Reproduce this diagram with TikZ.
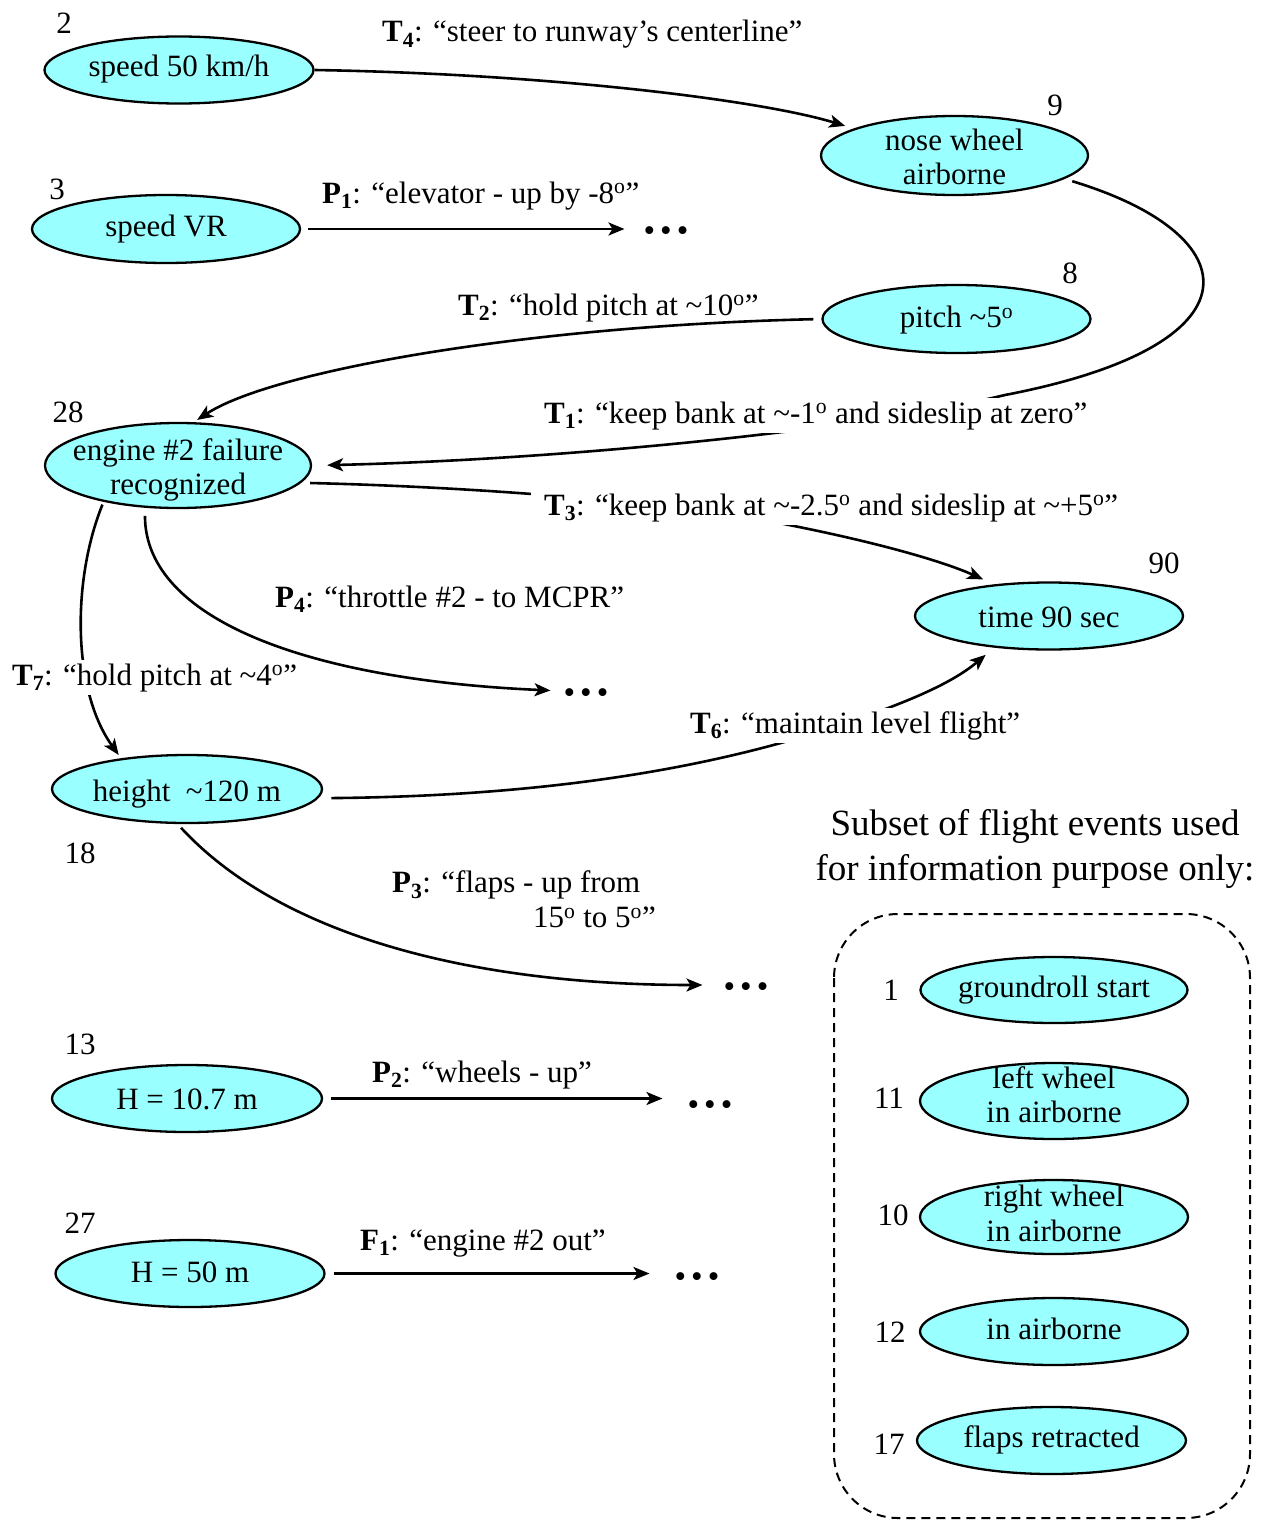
\documentclass[tikz,border=0pt]{standalone}
\usepackage{fontspec}
\setmainfont{Liberation Serif}
\usetikzlibrary{shapes.geometric,arrows.meta}
\definecolor{evfill}{RGB}{153,255,255}
\begin{document}
\begin{tikzpicture}[x=1pt,y=-1pt,
  every node/.style={font=\fontsize{31}{34.5}\selectfont},
  ev/.style={ellipse, draw, fill=evfill, line width=2.3pt, inner sep=0pt, minimum width=268pt, minimum height=67pt},
  num/.style={inner sep=0pt},
  lab/.style={inner sep=0pt, anchor=base west},
  wlab/.style={fill=white, inner sep=3pt, anchor=base west},
  edge/.style={line width=2.6pt, -{Stealth[length=16pt,width=13pt,inset=4pt]}},
  dotsx/.style={inner sep=0pt, font=\fontsize{33}{33}\selectfont},
  boxline/.style={line width=2pt, dash pattern=on 9pt off 6pt, rounded corners=64pt}
]
\useasboundingbox (0,0) rectangle (1261,1520);

% events
\node[ev, minimum width=269pt, label={[yshift=1pt]center:speed 50 km/h}] (s50) at (179,70) {};
\node[ev, minimum height=68pt, label={center:speed VR}] (vr) at (166,229) {};
\node[ev, minimum width=267pt, minimum height=79pt, label={[align=center,yshift=-1.5pt]center:nose wheel\\airborne}] (nw) at (954.5,155.5) {};
\node[ev, minimum height=68pt, label={[yshift=-1.5pt]center:pitch \textasciitilde5\textsuperscript{o}}] (pitch) at (956.5,319) {};
\node[ev, minimum width=266pt, minimum height=85pt, label={[align=center,yshift=-4.5pt]center:engine \#2 failure\\recognized}] (eng) at (178,465.5) {};
\node[ev, label={[yshift=-1.5pt]center:time 90 sec}] (t90) at (1049,616) {};
\node[ev, minimum width=270pt, minimum height=68pt, label={[yshift=-5.5pt]center:height\ \ \textasciitilde120 m}] (ht) at (187,789) {};
\node[ev, minimum width=270pt, label={[yshift=-1pt]center:H = 10.7 m}] (h107) at (187,1098.5) {};
\node[ev, minimum width=269pt, label={[yshift=1.5pt]center:H = 50 m}] (h50) at (190,1273.5) {};

\node[ev, minimum width=267pt, minimum height=66pt, label={[yshift=-0.5pt]center:groundroll start}] (gs) at (1054,990) {};
\node[ev, minimum width=268pt, minimum height=76pt, label={[align=center,yshift=6.5pt]center:left wheel\\in airborne}] (lw) at (1054,1101) {};
\node[ev, minimum width=268pt, minimum height=74pt, label={[align=center,yshift=3.5pt]center:right wheel\\in airborne}] (rw) at (1054,1217) {};
\node[ev, label={[yshift=3pt]center:in airborne}] (ia) at (1054,1331.5) {};
\node[ev, minimum width=269pt, label={[yshift=1pt]center:flaps retracted}] (fr) at (1051.5,1440.5) {};

% numbers
\node[num] (n2) at (64,23) {2};
\node[num] (n3) at (57,189) {3};
\node[num] (n9) at (1055,105) {9};
\node[num] (n8) at (1070,273) {8};
\node[num] (n28) at (68,412) {28};
\node[num] (n90) at (1164,563) {90};
\node[num] (n18) at (80,853) {18};
\node[num] (n13) at (80,1044) {13};
\node[num] (n27) at (80,1223) {27};
\node[num] (n1) at (891,990) {1};
\node[num] (n11) at (889,1098) {11};
\node[num] (n10) at (893,1215) {10};
\node[num] (n12) at (890,1332) {12};
\node[num] (n17) at (889,1444) {17};

% continuation dots
\node[dotsx] (d1) at (666,234) {•\kern5pt•\kern5pt•};
\node[dotsx] (d4) at (586,696) {•\kern5pt•\kern5pt•};
\node[dotsx] (d3) at (746,990) {•\kern5pt•\kern5pt•};
\node[dotsx] (d2) at (710,1108) {•\kern5pt•\kern5pt•};
\node[dotsx] (d5) at (697,1280) {•\kern5pt•\kern5pt•};

% connectors
\draw[edge, shorten >=9pt] (s50.east) .. controls (550,74) and (760,100) .. (nw.165);
\draw[edge, shorten <=7pt, shorten >=19pt] (vr.east) -- (vr.east -| d1.west);
\draw[edge, shorten <=8pt, shorten >=4pt] (pitch.west) .. controls (520,326) and (270,372) .. (eng.70);
\draw[edge, shorten <=8pt, shorten >=15pt] (nw.-12) .. controls (1250,235) and (1265,345) .. (1005,395) .. controls (850,432) and (550,460) .. (eng.east);
\draw[edge, shorten <=9pt, shorten >=12pt] (eng.-8) .. controls (480,487) and (680,503) .. (789,525) .. controls (870,541) and (940,560) .. (t90.150);
\draw[edge, shorten <=8pt, shorten >=13pt] (eng.-128) .. controls (145,620) and (310,680) .. ([yshift=5pt]d4.west);
\draw[edge, shorten <=3pt, shorten >=4pt] (eng.-154) .. controls (72,580) and (72,690) .. (ht.155);
\draw[edge, shorten <=13pt, shorten >=11pt] (ht.-4) .. controls (560,796) and (720,765) .. (840,725) .. controls (900,705) and (950,685) .. (t90.-150);
\draw[edge, shorten <=5pt, shorten >=21pt] (ht.-105) .. controls (280,935) and (470,985) .. ([yshift=5pt]d3.west);
\draw[edge, shorten <=8pt, shorten >=25pt] (h107.east) -- (h107.east -| d2.west);
\draw[edge, shorten <=8pt, shorten >=25pt] (h50.east) -- (h50.east -| d5.west);

% connector labels
\node[lab] (lT4) at (382,42) {\textbf{T\textsubscript{4}}: “steer to runway’s centerline”};
\node[lab] (lP1) at (322,203) {\textbf{P\textsubscript{1}}: “elevator - up by -8\textsuperscript{o}”};
\node[lab] (lT2) at (458,315) {\textbf{T\textsubscript{2}}: “hold pitch at \textasciitilde10\textsuperscript{o}”};
\node[wlab] (lT1) at (541,423) {\textbf{T\textsubscript{1}}: “keep bank at \textasciitilde-1\textsuperscript{o} and sideslip at zero”};
\node[wlab, inner xsep=13pt] (lT3) at (531,515) {\textbf{T\textsubscript{3}}: “keep bank at \textasciitilde-2.5\textsuperscript{o} and sideslip at \textasciitilde+5\textsuperscript{o}”};
\node[lab] (lP4) at (275,607) {\textbf{P\textsubscript{4}}: “throttle \#2 - to MCPR”};
\node[wlab] (lT7) at (9,685) {\textbf{T\textsubscript{7}}: “hold pitch at \textasciitilde4\textsuperscript{o}”};
\node[wlab] (lT6) at (687,733) {\textbf{T\textsubscript{6}}: “maintain level flight”};
\node[inner sep=0pt, align=left, anchor=north west] (lP3) at (392,870.6) {\textbf{P\textsubscript{3}}: “flaps - up from\\\hspace*{141pt}15\textsuperscript{o} to 5\textsuperscript{o}”};
\node[lab] (lP2) at (372,1082) {\textbf{P\textsubscript{2}}: “wheels - up”};
\node[lab] (lF1) at (360,1250) {\textbf{F\textsubscript{1}}: “engine \#2 out”};

% info subset
\node[align=center, inner sep=0pt, font=\fontsize{37}{45}\selectfont, anchor=north] (title) at (1035,809) {Subset of flight events used\\for information purpose only:};
\draw[boxline] (834,914) rectangle (1250,1518);
\end{tikzpicture}
\end{document}
